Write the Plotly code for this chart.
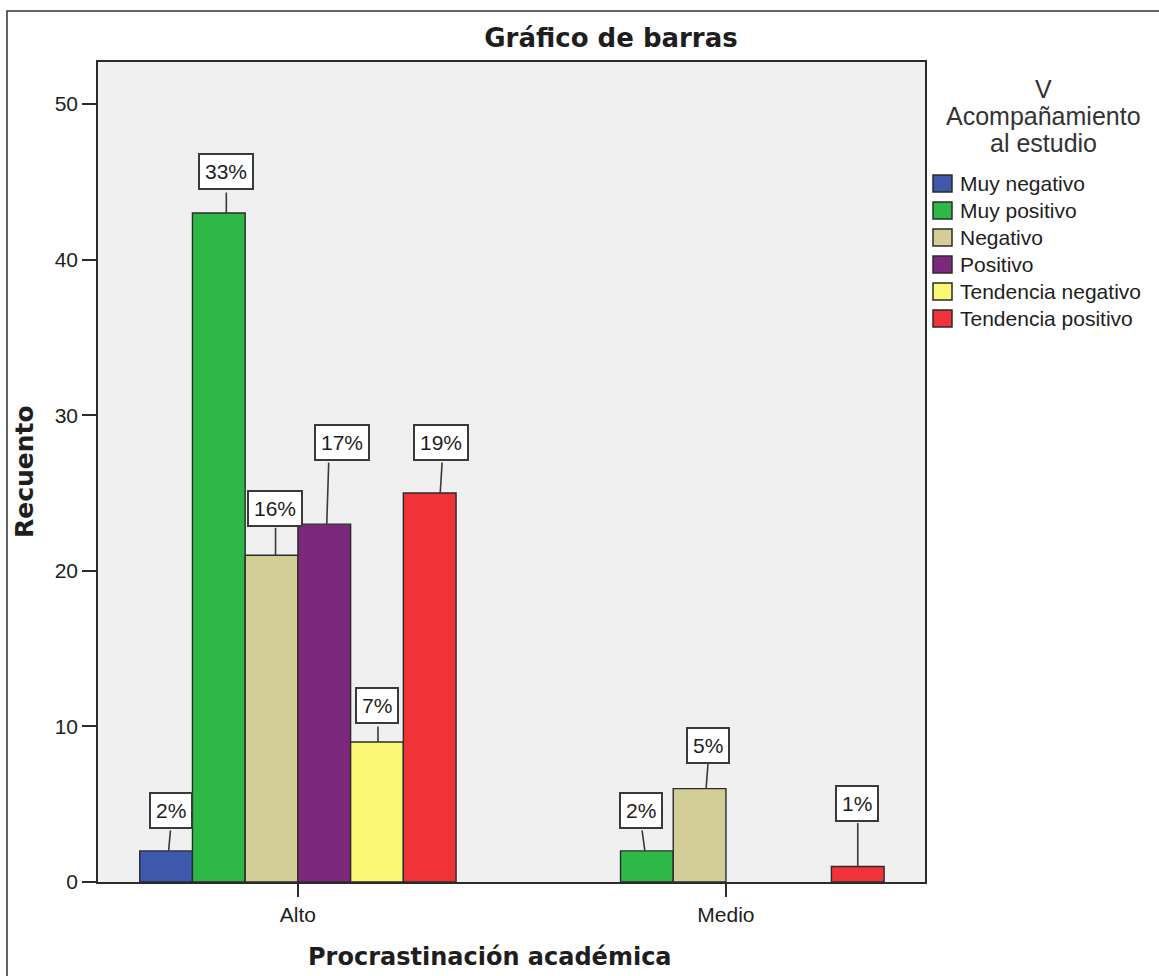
import plotly.graph_objects as go

# Counts per category of "Procrastinación académica" and "Acompañamiento al estudio"
groups = ["Alto", "Medio"]
series_names = ["Muy negativo", "Muy positivo", "Negativo", "Positivo",
                "Tendencia negativo", "Tendencia positivo"]
alto_counts = [2, 43, 21, 23, 9, 25]
medio_counts = [0, 2, 6, 0, 0, 1]
y_ticks = [0, 10, 20, 30, 40, 50]
legend_title_lines = ["V", "Acompañamiento", "al estudio"]

colors = ["#3E58AC", "#2EB848", "#D3CE97", "#7C287D", "#FBF873", "#EF3338"]

# Placement of each percentage callout, in pixels relative to the bar's top centre:
# (leader start dx, leader end dx, leader end dy, box centre dx, box centre dy)
callout_layout = {
    ("Alto", 0): (2.5, 4.5, -22, 5, -40),
    ("Alto", 1): (7.5, 7.5, -22, 7.5, -41),
    ("Alto", 2): (4, 4, -29, 3.5, -46.5),
    ("Alto", 3): (2.5, 4.5, -63, 17.5, -81.5),
    ("Alto", 4): (1, 1, -17, 0.5, -36),
    ("Alto", 5): (10.5, 12.5, -32, 11.5, -50.5),
    ("Medio", 1): (-2, -5, -22, -5.5, -40),
    ("Medio", 2): (6.5, 8.5, -26, 8.5, -43.5),
    ("Medio", 5): (0, 0, -45, -0.5, -63),
}

W, H = 1159, 976
L, T, R, B = 98, 62, 925, 882          # plot-area edges in pixels
FONT = "Liberation Sans, Arial, sans-serif"
BOLD_FONT = "DejaVu Sans"
INK = "#1e1e1e"
EDGE = "#2b2b2b"

def px_x(px):
    return (px - L) / (R - L)

def px_y(py):
    return (B - py) / (B - T)

total = sum(alto_counts) + sum(medio_counts)
x_range = [-0.467, 1.465]
bargap = 0.261
n = len(series_names)
slot = (1 - bargap) / n

fig = go.Figure()
for i, name in enumerate(series_names):
    vals = [alto_counts[i], medio_counts[i]]
    fig.add_trace(go.Bar(
        name=name,
        x=groups,
        y=[v if v else None for v in vals],
        marker=dict(color=colors[i], line=dict(color=EDGE, width=1.4)),
        showlegend=False,
    ))

# percentage callouts: a leader line plus a boxed label
annotations = []
for gi, g in enumerate(groups):
    counts = alto_counts if g == "Alto" else medio_counts
    for i, v in enumerate(counts):
        if not v:
            continue
        xc = gi - (1 - bargap) / 2 + slot * (i + 0.5)
        s_dx, e_dx, e_dy, b_dx, b_dy = callout_layout[(g, i)]
        annotations.append(dict(
            x=xc, y=v, xref="x", yref="y", text="", xshift=s_dx,
            showarrow=True, arrowhead=0, arrowwidth=1.6, arrowcolor="#3a3a3a",
            ax=e_dx - s_dx, ay=e_dy, standoff=0, startstandoff=0,
        ))
        annotations.append(dict(
            x=xc, y=v, xref="x", yref="y",
            text=f"{round(100 * v / total)}%",
            showarrow=False, xshift=b_dx, yshift=-b_dy,
            xanchor="center", yanchor="middle",
            bgcolor="white", bordercolor="#3a3a3a", borderwidth=2, borderpad=5,
            font=dict(family=FONT, size=21, color=INK),
        ))

# axis titles
annotations.append(dict(
    x=px_x(24), y=0.5, xref="paper", yref="paper", text="Recuento",
    textangle=-90, showarrow=False, xanchor="center", yanchor="middle",
    font=dict(family=BOLD_FONT, size=25, color=INK, weight="bold"),
))
annotations.append(dict(
    x=px_x(490), y=px_y(957), xref="paper", yref="paper",
    text="Procrastinación académica", showarrow=False,
    xanchor="center", yanchor="middle",
    font=dict(family=BOLD_FONT, size=24, color=INK, weight="bold"),
))

# legend block
for k, line in enumerate(legend_title_lines):
    annotations.append(dict(
        x=px_x(1043), y=px_y(89 + k * 27), xref="paper", yref="paper",
        text=line, showarrow=False, xanchor="center", yanchor="middle",
        font=dict(family=FONT, size=25, color="#333333"),
    ))
shapes = []
for i, name in enumerate(series_names):
    cy = 183.5 + i * 27
    shapes.append(dict(
        type="rect", xref="paper", yref="paper",
        x0=px_x(933), x1=px_x(952), y0=px_y(cy - 8.5), y1=px_y(cy + 8.5),
        fillcolor=colors[i], line=dict(color=EDGE, width=1.5),
    ))
    annotations.append(dict(
        x=px_x(958), y=px_y(cy), xref="paper", yref="paper", text=name,
        showarrow=False, xanchor="left", yanchor="middle",
        font=dict(family=FONT, size=21, color=INK),
    ))

# outer frame of the chart
shapes.append(dict(
    type="rect", xref="paper", yref="paper",
    x0=px_x(7), x1=px_x(1180), y0=px_y(11), y1=px_y(1000),
    line=dict(color="#333333", width=1.5), fillcolor="rgba(0,0,0,0)",
    layer="below",
))

fig.update_layout(
    width=W, height=H, autosize=False,
    margin=dict(l=L, r=W - R, t=T, b=H - B, pad=0),
    paper_bgcolor="white", plot_bgcolor="#F0F0F0",
    barmode="group", bargap=bargap, bargroupgap=0,
    title=dict(
        text="Gráfico de barras", x=611 / W, y=1 - 38 / H,
        xanchor="center", yanchor="middle", xref="container", yref="container",
        font=dict(family=BOLD_FONT, size=26, color=INK, weight="bold"),
    ),
    annotations=annotations,
    shapes=shapes,
    showlegend=False,
)
fig.update_xaxes(
    type="category", range=x_range, showgrid=False, zeroline=False,
    showline=True, linecolor=EDGE, linewidth=1.5, mirror=True,
    ticks="outside", ticklen=13, tickwidth=1.5, tickcolor=EDGE,
    tickfont=dict(family=FONT, size=21, color=INK),
)
fig.update_yaxes(
    range=[0, 52.7], tickvals=y_ticks, showgrid=False, zeroline=False,
    showline=True, linecolor=EDGE, linewidth=1.5, mirror=True,
    ticks="outside", ticklen=14, tickwidth=1.5, tickcolor=EDGE,
    tickfont=dict(family=FONT, size=21, color=INK),
)

fig.write_html("out.html")
